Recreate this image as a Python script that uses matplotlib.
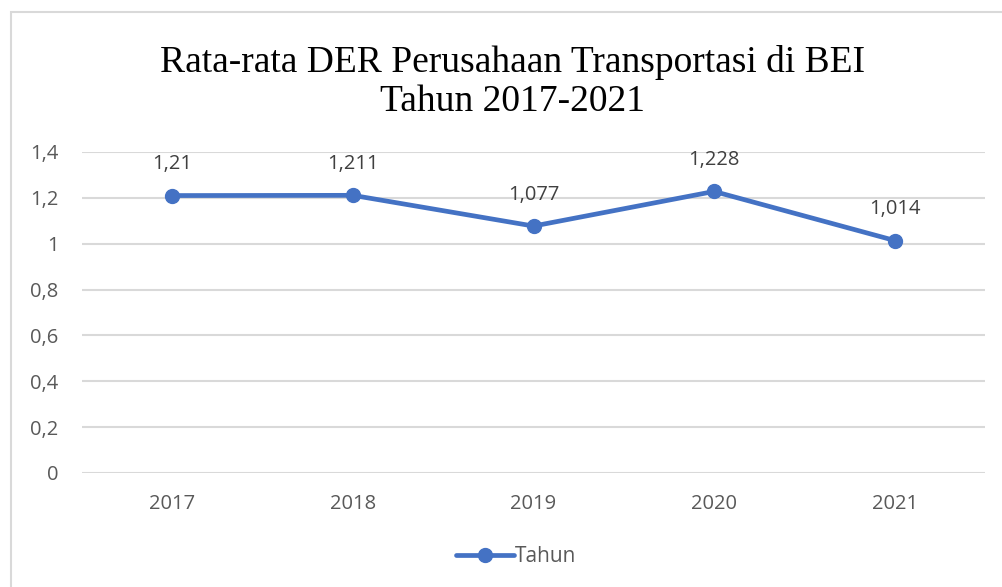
import matplotlib.pyplot as plt
from matplotlib.patches import Rectangle

# data
years = ['2017', '2018', '2019', '2020', '2021']
der = [1.21, 1.211, 1.077, 1.228, 1.014]
labels = ['1,21', '1,211', '1,077', '1,228', '1,014']
yticks = [0, 0.2, 0.4, 0.6, 0.8, 1.0, 1.2, 1.4]
ytick_labels = ['0', '0,2', '0,4', '0,6', '0,8', '1', '1,2', '1,4']

W, H = 1003, 587
fig = plt.figure(figsize=(W / 100, H / 100), dpi=100)

# outer chart border (light grey, cut by image edges)
fig.patches.append(Rectangle((11 / W, -0.05), 1.1, 1 - 12 / H + 0.05,
                             transform=fig.transFigure, fill=False,
                             edgecolor='#d9d9d9', linewidth=1.5))

ax = fig.add_axes([82 / W, 1 - 473 / H, (985 - 82) / W, (473 - 152) / H])

x = list(range(len(years)))
ax.plot(x, der, color='#4472C4', linewidth=3.4, marker='o', markersize=10,
        label='Tahun', solid_capstyle='round')

for xi, yi, lab in zip(x, der, labels):
    ax.annotate(lab, (xi, yi), xytext=(0, 22.5), textcoords='offset points',
                ha='center', va='center', fontsize=14.5, color='#404040',
                family='Open Sans')

ax.set_xlim(-0.5, 4.5)
ax.set_ylim(0, 1.4)
ax.set_yticks(yticks)
ax.set_yticklabels(ytick_labels)
ax.set_xticks(x)
ax.set_xticklabels(years)
ax.tick_params(length=0, labelsize=14.5, labelcolor='#595959', pad=15)
ax.tick_params(axis='y', pad=17)
for t in ax.get_xticklabels() + ax.get_yticklabels():
    t.set_family('Open Sans')
ax.grid(axis='y', color='#d9d9d9', linewidth=1.5)
ax.set_axisbelow(True)
for s in ax.spines.values():
    s.set_visible(False)

fig.text(0.511, 1 - 82 / H, 'Rata-rata DER Perusahaan Transportasi di BEI\nTahun 2017-2021',
         ha='center', va='center', fontsize=27, family='Liberation Serif',
         linespacing=1.2, color='black')

leg = fig.legend(loc='center', bbox_to_anchor=(516 / W, 1 - 557 / H), frameon=False,
                 prop={'family': 'Open Sans', 'size': 15}, handlelength=2.8,
                 handletextpad=0.05)
for t in leg.get_texts():
    t.set_color('#595959')

fig.savefig('out.png', dpi=100)
